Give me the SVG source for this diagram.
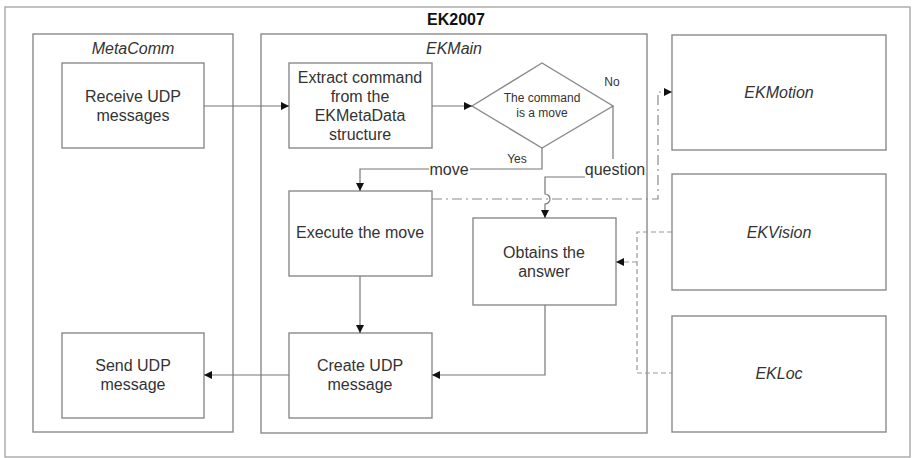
<svg xmlns="http://www.w3.org/2000/svg" width="912" height="458" viewBox="0 0 912 458">
  <defs>
    <marker id="arrow" viewBox="0 0 10 10" refX="10" refY="5" markerWidth="8" markerHeight="8" markerUnits="userSpaceOnUse" orient="auto">
      <path d="M0,0 L10,5 L0,10 Z" fill="#111"/>
    </marker>
    <style>
      .frame { fill: none; stroke: #a8a8a8; stroke-width: 1.4; }
      .box { fill: #fff; stroke: #8a8a8a; stroke-width: 1.4; }
      .line { fill: none; stroke: #777; stroke-width: 1.2; }
      .dashdot { fill: none; stroke: #8a8a8a; stroke-width: 1.2; stroke-dasharray: 10 4 2 4; }
      .dash { fill: none; stroke: #999; stroke-width: 1.2; stroke-dasharray: 5 3; }
      text { font-family: "Liberation Sans", Arial, sans-serif; fill: #333; text-anchor: middle; }
      .t16 { font-size: 16px; }
      .t12 { font-size: 12px; }
      .it { font-style: italic; font-size: 16px; }
      .title { font-weight: bold; font-size: 16px; fill: #111; }
    </style>
  </defs>

  <rect width="912" height="458" fill="#fff"/>

  <!-- system frame -->
  <g id="ek2007">
    <rect class="frame" x="5" y="7" width="905" height="450"/>
    <text class="title" x="456" y="25">EK2007</text>
  </g>

  <!-- MetaComm module -->
  <g id="metacomm">
    <rect class="box" x="33" y="34" width="200" height="398"/>
    <text class="it" x="133" y="54">MetaComm</text>
  </g>

  <!-- EKMain module -->
  <g id="ekmain">
    <rect class="box" x="261" y="34" width="386" height="399"/>
    <text class="it" x="454" y="54">EKMain</text>
  </g>

  <g id="receive-udp">
    <rect class="box" x="62" y="63" width="142" height="85"/>
    <text class="t16" x="133" y="102">Receive UDP</text>
    <text class="t16" x="133" y="121">messages</text>
  </g>

  <g id="send-udp">
    <rect class="box" x="62" y="333" width="142" height="85"/>
    <text class="t16" x="133" y="371">Send UDP</text>
    <text class="t16" x="133" y="390">message</text>
  </g>

  <g id="extract">
    <rect class="box" x="289" y="63" width="143" height="85"/>
    <text class="t16" x="360" y="83">Extract command</text>
    <text class="t16" x="360" y="102">from the</text>
    <text class="t16" x="360" y="121">EKMetaData</text>
    <text class="t16" x="360" y="140">structure</text>
  </g>

  <g id="decision">
    <path class="box" d="M472,106 L542,63 L613,106 L542,148 Z"/>
    <text class="t12" x="542" y="102">The command</text>
    <text class="t12" x="542" y="117">is a move</text>
  </g>

  <g id="execute">
    <rect class="box" x="289" y="191" width="143" height="85"/>
    <text class="t16" x="360" y="238">Execute the move</text>
  </g>

  <g id="create-udp">
    <rect class="box" x="289" y="333" width="143" height="85"/>
    <text class="t16" x="360" y="371">Create UDP</text>
    <text class="t16" x="360" y="390">message</text>
  </g>

  <g id="obtains">
    <rect class="box" x="473" y="218" width="143" height="87"/>
    <text class="t16" x="544" y="258">Obtains the</text>
    <text class="t16" x="544" y="277">answer</text>
  </g>

  <g id="ekmotion">
    <rect class="box" x="672" y="35" width="214" height="115"/>
    <text class="it" x="779" y="98">EKMotion</text>
  </g>

  <g id="ekvision">
    <rect class="box" x="672" y="174" width="214" height="116"/>
    <text class="it" x="779" y="238">EKVision</text>
  </g>

  <g id="ekloc">
    <rect class="box" x="672" y="316" width="214" height="116"/>
    <text class="it" x="779" y="379">EKLoc</text>
  </g>

  <!-- connectors -->
  <g id="connectors">
    <path class="line" d="M204,106 H289" marker-end="url(#arrow)"/>
    <path class="line" d="M432,106 H472" marker-end="url(#arrow)"/>
    <!-- Yes branch -->
    <path class="line" d="M542,148 V169 H470"/>
    <path class="line" d="M429,169 H360 V191" marker-end="url(#arrow)"/>
    <text class="t12" x="517" y="163">Yes</text>
    <text class="t16" x="449" y="175">move</text>
    <!-- No branch -->
    <path class="line" d="M613,106 V159"/>
    <text class="t12" x="612" y="86">No</text>
    <text class="t16" x="615" y="175">question</text>
    <path class="line" d="M585,177 H545 V194 A5,5 0 0 1 545,204 V218" marker-end="url(#arrow)"/>
    <!-- flow down -->
    <path class="line" d="M360,276 V333" marker-end="url(#arrow)"/>
    <path class="line" d="M545,305 V375 H432" marker-end="url(#arrow)"/>
    <path class="line" d="M289,375 H204" marker-end="url(#arrow)"/>
    <!-- command to EKMotion -->
    <path class="dashdot" d="M432,199 H658 V92 H672" marker-end="url(#arrow)"/>
    <!-- sensor data -->
    <path class="dash" d="M672,232 H637 V373 H672"/>
    <path class="dash" d="M637,262 H616" marker-end="url(#arrow)"/>
  </g>
</svg>
